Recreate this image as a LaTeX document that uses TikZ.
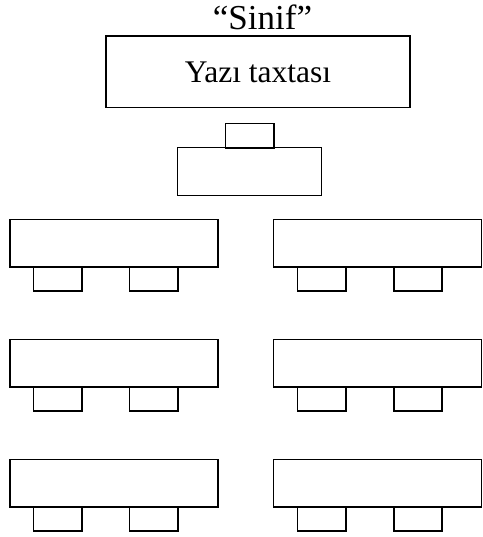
\documentclass[tikz,border=0pt]{standalone}
\usepackage{fontspec}
\setmainfont{Liberation Serif}
\begin{document}
\begin{tikzpicture}[x=1pt,y=-1pt,
  box/.style={draw=black,line width=1.5pt,rectangle,inner sep=0pt,outer sep=0pt},
  desk/.style={box,minimum width=208pt,minimum height=47.5pt},
  chair/.style={box,minimum width=48.3pt,minimum height=24.3pt}]
\useasboundingbox (0,0) rectangle (482,537);
\node[anchor=base,font=\fontsize{35}{40}\selectfont] (title) at (262.5,30) {“Sinif”};
\node[box,minimum width=304pt,minimum height=71.5pt,font=\fontsize{31.5}{36}\selectfont] (board) at (258,72) {Yazı taxtası};
\node[chair] (tchair) at (249.8,135.8) {};
\node[box,minimum width=144pt,minimum height=48pt] (tdesk) at (249.7,171.7) {};
\foreach \r/\t in {1/219.3,2/339.3,3/459.3}{
  \node[desk,anchor=north west] (deskL\r) at (10,\t) {};
  \node[desk,anchor=north west] (deskR\r) at (273.7,\t) {};
  \node[chair,anchor=north west] (chL\r a) at (33.7,\t+47.5) {};
  \node[chair,anchor=north west] (chL\r b) at (129.7,\t+47.5) {};
  \node[chair,anchor=north west] (chR\r a) at (297.7,\t+47.5) {};
  \node[chair,anchor=north west] (chR\r b) at (393.9,\t+47.5) {};
}
\end{tikzpicture}
\end{document}
